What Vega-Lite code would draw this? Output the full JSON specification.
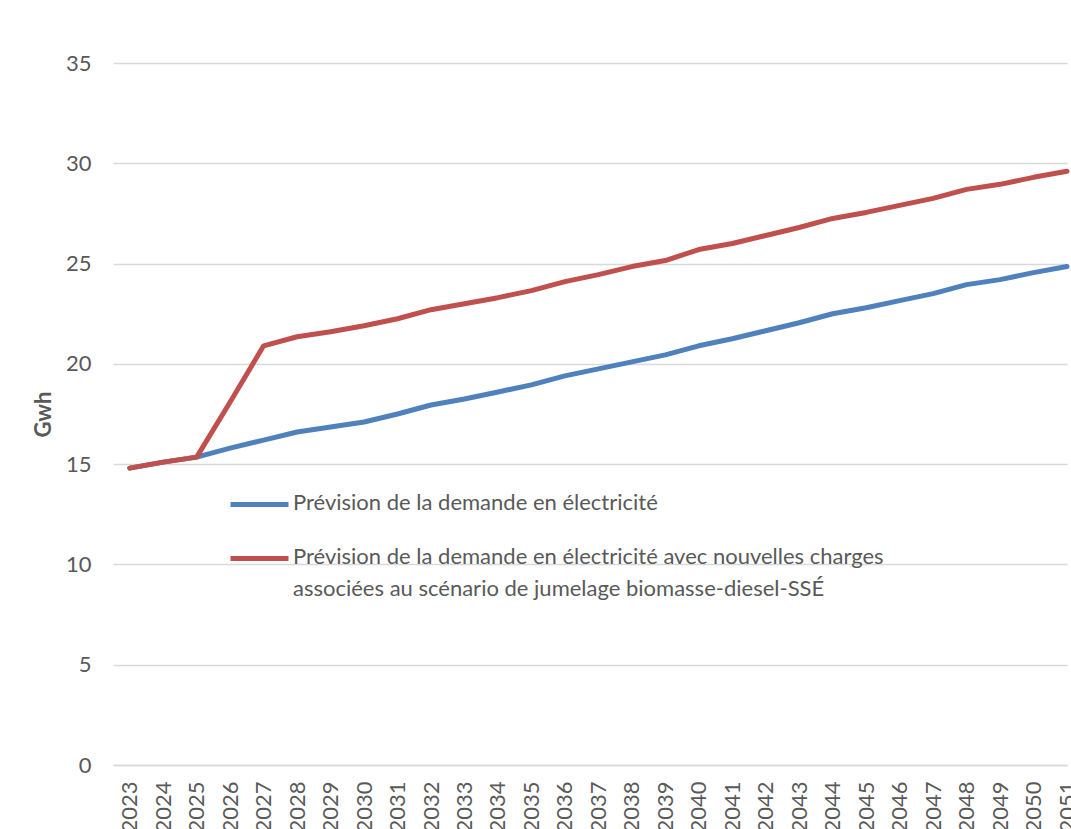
{
  "$schema": "https://vega.github.io/schema/vega-lite/v6.json",
  "width": 954,
  "height": 702,
  "autosize": {"type": "none"},
  "padding": {"left": 113, "top": 63, "right": 4, "bottom": 64},
  "background": "white",
  "config": {
    "view": {"stroke": null},
    "font": "Lato",
    "axis": {"labelFont": "Lato", "titleFont": "Lato", "labelColor": "#595959", "titleColor": "#595959"}
  },
  "data": {
    "values": [
      {"annee": "2023", "serie": "Prévision de la demande en électricité", "gwh": 14.8},
      {"annee": "2024", "serie": "Prévision de la demande en électricité", "gwh": 15.1},
      {"annee": "2025", "serie": "Prévision de la demande en électricité", "gwh": 15.35},
      {"annee": "2026", "serie": "Prévision de la demande en électricité", "gwh": 15.8},
      {"annee": "2027", "serie": "Prévision de la demande en électricité", "gwh": 16.2},
      {"annee": "2028", "serie": "Prévision de la demande en électricité", "gwh": 16.6},
      {"annee": "2029", "serie": "Prévision de la demande en électricité", "gwh": 16.85},
      {"annee": "2030", "serie": "Prévision de la demande en électricité", "gwh": 17.1},
      {"annee": "2031", "serie": "Prévision de la demande en électricité", "gwh": 17.5},
      {"annee": "2032", "serie": "Prévision de la demande en électricité", "gwh": 17.95},
      {"annee": "2033", "serie": "Prévision de la demande en électricité", "gwh": 18.25},
      {"annee": "2034", "serie": "Prévision de la demande en électricité", "gwh": 18.6},
      {"annee": "2035", "serie": "Prévision de la demande en électricité", "gwh": 18.95},
      {"annee": "2036", "serie": "Prévision de la demande en électricité", "gwh": 19.4},
      {"annee": "2037", "serie": "Prévision de la demande en électricité", "gwh": 19.75},
      {"annee": "2038", "serie": "Prévision de la demande en électricité", "gwh": 20.1},
      {"annee": "2039", "serie": "Prévision de la demande en électricité", "gwh": 20.45},
      {"annee": "2040", "serie": "Prévision de la demande en électricité", "gwh": 20.9},
      {"annee": "2041", "serie": "Prévision de la demande en électricité", "gwh": 21.25},
      {"annee": "2042", "serie": "Prévision de la demande en électricité", "gwh": 21.65},
      {"annee": "2043", "serie": "Prévision de la demande en électricité", "gwh": 22.05},
      {"annee": "2044", "serie": "Prévision de la demande en électricité", "gwh": 22.5},
      {"annee": "2045", "serie": "Prévision de la demande en électricité", "gwh": 22.8},
      {"annee": "2046", "serie": "Prévision de la demande en électricité", "gwh": 23.15},
      {"annee": "2047", "serie": "Prévision de la demande en électricité", "gwh": 23.5},
      {"annee": "2048", "serie": "Prévision de la demande en électricité", "gwh": 23.95},
      {"annee": "2049", "serie": "Prévision de la demande en électricité", "gwh": 24.2},
      {"annee": "2050", "serie": "Prévision de la demande en électricité", "gwh": 24.55},
      {"annee": "2051", "serie": "Prévision de la demande en électricité", "gwh": 24.85},
      {"annee": "2023", "serie": "Prévision de la demande en électricité avec nouvelles charges associées au scénario de jumelage biomasse-diesel-SSÉ", "gwh": 14.8},
      {"annee": "2024", "serie": "Prévision de la demande en électricité avec nouvelles charges associées au scénario de jumelage biomasse-diesel-SSÉ", "gwh": 15.1},
      {"annee": "2025", "serie": "Prévision de la demande en électricité avec nouvelles charges associées au scénario de jumelage biomasse-diesel-SSÉ", "gwh": 15.35},
      {"annee": "2026", "serie": "Prévision de la demande en électricité avec nouvelles charges associées au scénario de jumelage biomasse-diesel-SSÉ", "gwh": 18.1},
      {"annee": "2027", "serie": "Prévision de la demande en électricité avec nouvelles charges associées au scénario de jumelage biomasse-diesel-SSÉ", "gwh": 20.9},
      {"annee": "2028", "serie": "Prévision de la demande en électricité avec nouvelles charges associées au scénario de jumelage biomasse-diesel-SSÉ", "gwh": 21.35},
      {"annee": "2029", "serie": "Prévision de la demande en électricité avec nouvelles charges associées au scénario de jumelage biomasse-diesel-SSÉ", "gwh": 21.6},
      {"annee": "2030", "serie": "Prévision de la demande en électricité avec nouvelles charges associées au scénario de jumelage biomasse-diesel-SSÉ", "gwh": 21.9},
      {"annee": "2031", "serie": "Prévision de la demande en électricité avec nouvelles charges associées au scénario de jumelage biomasse-diesel-SSÉ", "gwh": 22.25},
      {"annee": "2032", "serie": "Prévision de la demande en électricité avec nouvelles charges associées au scénario de jumelage biomasse-diesel-SSÉ", "gwh": 22.7},
      {"annee": "2033", "serie": "Prévision de la demande en électricité avec nouvelles charges associées au scénario de jumelage biomasse-diesel-SSÉ", "gwh": 23.0},
      {"annee": "2034", "serie": "Prévision de la demande en électricité avec nouvelles charges associées au scénario de jumelage biomasse-diesel-SSÉ", "gwh": 23.3},
      {"annee": "2035", "serie": "Prévision de la demande en électricité avec nouvelles charges associées au scénario de jumelage biomasse-diesel-SSÉ", "gwh": 23.65},
      {"annee": "2036", "serie": "Prévision de la demande en électricité avec nouvelles charges associées au scénario de jumelage biomasse-diesel-SSÉ", "gwh": 24.1},
      {"annee": "2037", "serie": "Prévision de la demande en électricité avec nouvelles charges associées au scénario de jumelage biomasse-diesel-SSÉ", "gwh": 24.45},
      {"annee": "2038", "serie": "Prévision de la demande en électricité avec nouvelles charges associées au scénario de jumelage biomasse-diesel-SSÉ", "gwh": 24.85},
      {"annee": "2039", "serie": "Prévision de la demande en électricité avec nouvelles charges associées au scénario de jumelage biomasse-diesel-SSÉ", "gwh": 25.15},
      {"annee": "2040", "serie": "Prévision de la demande en électricité avec nouvelles charges associées au scénario de jumelage biomasse-diesel-SSÉ", "gwh": 25.7},
      {"annee": "2041", "serie": "Prévision de la demande en électricité avec nouvelles charges associées au scénario de jumelage biomasse-diesel-SSÉ", "gwh": 26.0},
      {"annee": "2042", "serie": "Prévision de la demande en électricité avec nouvelles charges associées au scénario de jumelage biomasse-diesel-SSÉ", "gwh": 26.4},
      {"annee": "2043", "serie": "Prévision de la demande en électricité avec nouvelles charges associées au scénario de jumelage biomasse-diesel-SSÉ", "gwh": 26.8},
      {"annee": "2044", "serie": "Prévision de la demande en électricité avec nouvelles charges associées au scénario de jumelage biomasse-diesel-SSÉ", "gwh": 27.25},
      {"annee": "2045", "serie": "Prévision de la demande en électricité avec nouvelles charges associées au scénario de jumelage biomasse-diesel-SSÉ", "gwh": 27.55},
      {"annee": "2046", "serie": "Prévision de la demande en électricité avec nouvelles charges associées au scénario de jumelage biomasse-diesel-SSÉ", "gwh": 27.9},
      {"annee": "2047", "serie": "Prévision de la demande en électricité avec nouvelles charges associées au scénario de jumelage biomasse-diesel-SSÉ", "gwh": 28.25},
      {"annee": "2048", "serie": "Prévision de la demande en électricité avec nouvelles charges associées au scénario de jumelage biomasse-diesel-SSÉ", "gwh": 28.7},
      {"annee": "2049", "serie": "Prévision de la demande en électricité avec nouvelles charges associées au scénario de jumelage biomasse-diesel-SSÉ", "gwh": 28.95},
      {"annee": "2050", "serie": "Prévision de la demande en électricité avec nouvelles charges associées au scénario de jumelage biomasse-diesel-SSÉ", "gwh": 29.3},
      {"annee": "2051", "serie": "Prévision de la demande en électricité avec nouvelles charges associées au scénario de jumelage biomasse-diesel-SSÉ", "gwh": 29.6}
    ]
  },
  "mark": {"type": "line", "strokeWidth": 5, "strokeCap": "round", "strokeJoin": "round"},
  "encoding": {
    "x": {
      "field": "annee",
      "type": "ordinal",
      "scale": {"type": "point", "padding": 0.25, "align": 1},
      "axis": {
        "title": null,
        "labelAngle": -90,
        "labelFontSize": 22,
        "labelPadding": 16,
        "ticks": false,
        "domainColor": "#d9d9d9",
        "domainWidth": 1.5,
        "grid": false
      }
    },
    "y": {
      "field": "gwh",
      "type": "quantitative",
      "scale": {"domain": [0, 35]},
      "axis": {
        "title": "Gwh",
        "titleFontSize": 22,
        "titleFontWeight": "bold",
        "titlePadding": 10,
        "values": [0, 5, 10, 15, 20, 25, 30, 35],
        "labelFontSize": 22,
        "labelPadding": 22,
        "ticks": false,
        "domain": false,
        "gridColor": "#d9d9d9",
        "gridWidth": 1.5
      }
    },
    "color": {
      "field": "serie",
      "type": "nominal",
      "scale": {
        "domain": ["Prévision de la demande en électricité", "Prévision de la demande en électricité avec nouvelles charges associées au scénario de jumelage biomasse-diesel-SSÉ"],
        "range": ["#4F81BD", "#C0504D"]
      },
      "legend": {
        "title": null,
        "orient": "none",
        "legendX": 115,
        "legendY": 410,
        "symbolType": "stroke",
        "symbolSize": 3364,
        "symbolStrokeWidth": 5,
        "labelFont": "Lato",
        "labelFontSize": 22,
        "labelColor": "#595959",
        "labelOffset": 2,
        "labelLimit": 900,
        "labelBaseline": "top",
        "rowPadding": 12,
        "labelExpr": "length(datum.label) > 50 ? ['Prévision de la demande en électricité avec nouvelles charges', 'associées au scénario de jumelage biomasse-diesel-SSÉ'] : datum.label",
        "encode": {
          "labels": {"update": {"lineHeight": {"value": 32}, "dy": {"value": -12}}}
        }
      }
    }
  }
}
